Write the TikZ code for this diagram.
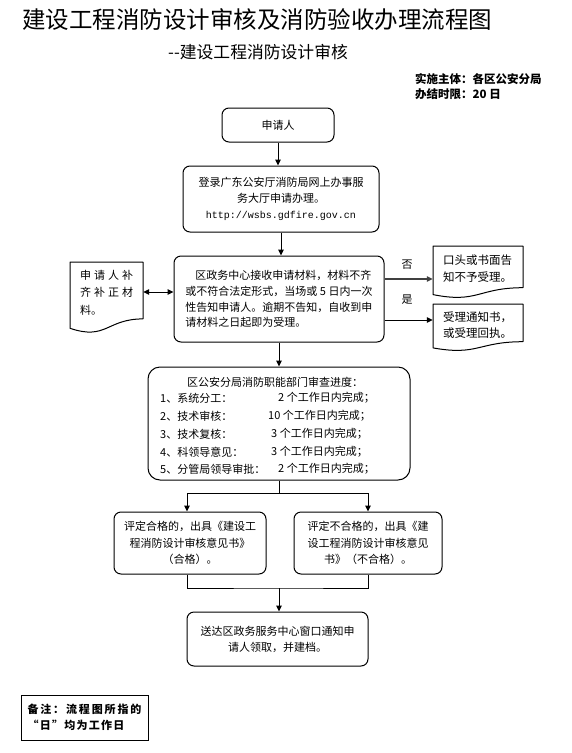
\documentclass[tikz,border=0pt]{standalone}
\usepackage{fontspec}
\setmainfont{Noto Sans CJK SC}
\newfontfamily\urlfont{Liberation Mono}
\usetikzlibrary{arrows.meta,calc}
\begin{document}
\begin{tikzpicture}[x=1pt,y=-1pt,
  box/.style={draw, line width=1pt, rounded corners=7pt, inner sep=0pt, align=center, font=\fontsize{11}{16}\selectfont},
  plain/.style={inner sep=0pt, font=\fontsize{11}{16}\selectfont},
  ghost/.style={inner sep=0pt, minimum width=90pt, minimum height=36pt},
  arr/.style={line width=1pt, -{Triangle[length=6pt,width=5.5pt]}},
  dblarr/.style={line width=1pt, {Triangle[length=6pt,width=5.5pt]}-{Triangle[length=6pt,width=5.5pt]}},
  ln/.style={line width=1pt},
  docshape/.style={draw, line width=1pt, line join=round}]
\useasboundingbox (0,0) rectangle (571,753);

% titles
\node[anchor=west, inner sep=0pt, font=\fontsize{23.5}{28}\selectfont] (title) at (22,20) {建设工程消防设计审核及消防验收办理流程图};
\node[anchor=west, inner sep=0pt, font=\fontsize{16.8}{20}\selectfont] (subtitle) at (168,52) {-{}-建设工程消防设计审核};
\node[anchor=west, inner sep=0pt, font=\fontsize{11.5}{14}\selectfont\bfseries] (org) at (415,79) {实施主体：各区公安分局};
\node[anchor=west, inner sep=0pt, font=\fontsize{11.5}{14}\selectfont\bfseries] (limit) at (415,94) {办结时限：20 日};

% main chain
\node[box, minimum width=112pt, minimum height=34pt] (apply) at (278,125) {申请人};
\node[box, minimum width=196pt, minimum height=66pt] (login) at (281,199)
  {登录广东公安厅消防局网上办事服\\务大厅申请办理。\\{\urlfont\fontsize{10}{15.5}\selectfont http://wsbs.gdfire.gov.cn}};
\node[box, minimum width=210pt, minimum height=86pt, align=left, font=\fontsize{11}{15.7}\selectfont] (accept) at (279,299)
  {\hspace*{10pt}区政务中心接收申请材料，材料不齐\\或不符合法定形式，当场或 5 日内一次\\性告知申请人。逾期不告知，自收到申\\请材料之日起即为受理。};

% review box
\node[box, rounded corners=12pt, minimum width=262pt, minimum height=113pt] (review) at (279,423.5) {};
\node[plain] (rhead) at (275,382) {区公安分局消防职能部门审查进度：};
\node[plain, anchor=west] (r1a) at (160,398) {1、系统分工：};
\node[plain, anchor=west] (r1b) at (278,398) {2 个工作日内完成；};
\node[plain, anchor=west] (r2a) at (160,416) {2、技术审核：};
\node[plain, anchor=west] (r2b) at (268,416) {10 个工作日内完成；};
\node[plain, anchor=west] (r3a) at (160,434) {3、技术复核：};
\node[plain, anchor=west] (r3b) at (271,434) {3 个工作日内完成；};
\node[plain, anchor=west] (r4a) at (160,452) {4、科领导意见：};
\node[plain, anchor=west] (r4b) at (271,452) {3 个工作日内完成；};
\node[plain, anchor=west] (r5a) at (160,469) {5、分管局领导审批：};
\node[plain, anchor=west] (r5b) at (278,469) {2 个工作日内完成；};

% outcomes
\node[box, minimum width=152pt, minimum height=62pt, font=\fontsize{11}{16.5}\selectfont] (pass) at (190,543)
  {评定合格的，出具《建设工\\程消防设计审核意见书》\\（合格）。};
\node[box, minimum width=148pt, minimum height=62pt, font=\fontsize{11}{16.5}\selectfont] (fail) at (368,543)
  {评定不合格的，出具《建\\设工程消防设计审核意见\\书》（不合格）。};
\node[box, minimum width=181pt, minimum height=54pt] (final) at (277.5,639)
  {送达区政务服务中心窗口通知申\\请人领取，并建档。};

% note
\node[draw, line width=1pt, minimum width=127pt, minimum height=45pt, inner sep=0pt, align=left,
      font=\fontsize{11}{16}\selectfont\bfseries] (note) at (84.5,717.5)
  {\makebox[114pt][s]{备\hfill 注\hfill ：\hfill 流\hfill 程\hfill 图\hfill 所\hfill 指\hfill 的}\\
   \makebox[97pt][s]{“\hfill 日\hfill ”\hfill 均\hfill 为\hfill 工\hfill 作\hfill 日}};

% document shapes
\draw[docshape] (70,262) -- (143,262) -- (143,318.9) .. controls (106.5,318.9) and (106.5,340.6) .. (70,328.3) -- cycle;
\node[inner sep=0pt, minimum width=73pt, minimum height=56pt] (supp) at (106.5,292) {};
\node[plain, align=left, anchor=west, font=\fontsize{11}{17.5}\selectfont] (supptext) at (80,292.5)
  {\makebox[53pt][s]{申\hfill 请\hfill 人\hfill 补}\\\makebox[53pt][s]{齐\hfill 补\hfill 正\hfill 材}\\料。};

\draw[docshape] (433,246) -- (523,246) -- (523,287.7) .. controls (478,287.7) and (478,303.6) .. (433,294.6) -- cycle;
\node[ghost] (reject) at (478,279) {};
\node[plain, align=left, anchor=west, font=\fontsize{11.5}{17}\selectfont] (rejecttext) at (443,268.5) {口头或书面告\\知不予受理。};

\draw[docshape] (433,304) -- (523,304) -- (523,341.7) .. controls (478,341.7) and (478,356) .. (433,347.9) -- cycle;
\node[ghost] (receipt) at (478,320) {};
\node[plain, align=left, anchor=west, font=\fontsize{11.5}{16}\selectfont] (receipttext) at (443,325) {受理通知书，\\或受理回执。};

\node[plain] (no) at (407,265) {否};
\node[plain] (yes) at (407,300) {是};

% connectors
\draw[arr] (apply.south) -- (apply.south |- login.north);
\draw[arr] (login.south) -- (login.south |- accept.north);
\draw[arr] (accept.south) -- (accept.south |- review.north);
\draw[arr, line width=1.3pt, draw=black!75] (accept.east |- reject.west) -- (reject.west);
\draw[arr] (accept.east |- receipt.west) -- (receipt.west);
\draw[dblarr] (supp.east) -- (supp.east -| accept.west);

\coordinate (split) at (279,493);
\draw[ln] (review.south) -- (split);
\draw[arr] (split) -| ([xshift=-3pt]pass.north);
\draw[arr] (split) -| (fail.north);
\coordinate (merge) at (279,588);
\draw[ln] ([xshift=-3pt]pass.south) |- (merge) -| (fail.south);
\draw[arr] (merge) -- (merge |- final.north);
\end{tikzpicture}
\end{document}
